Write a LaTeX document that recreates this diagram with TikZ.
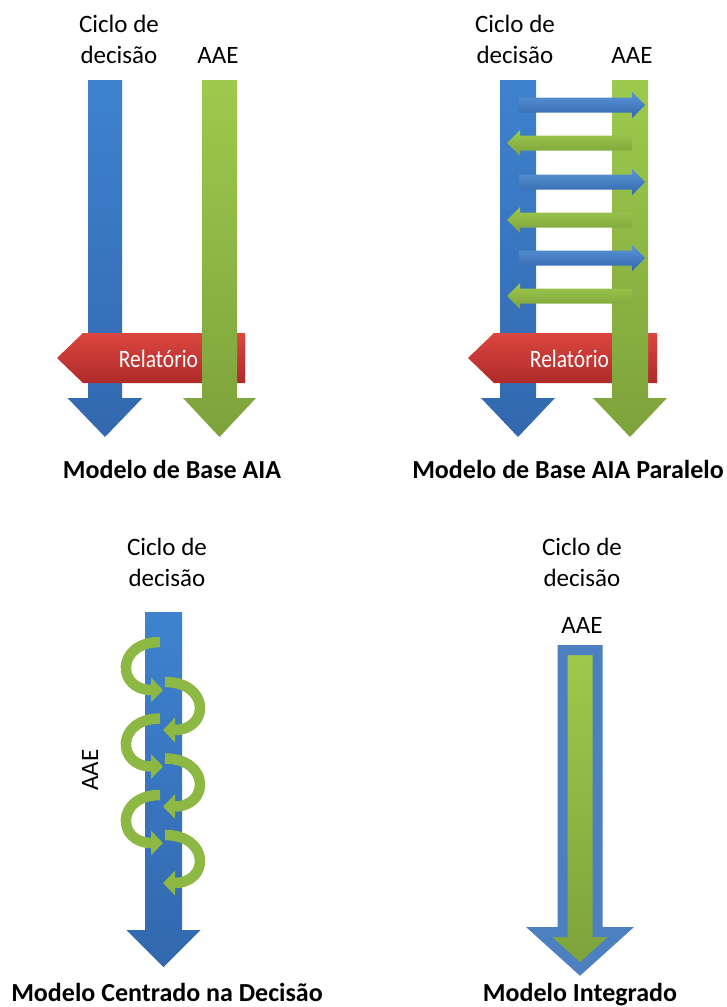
\documentclass[tikz,border=0pt]{standalone}
\usepackage{fontspec}
\setmainfont{Carlito}
\usetikzlibrary{arrows.meta}
\definecolor{bluetop}{HTML}{3E82CE}
\definecolor{bluebot}{HTML}{3268AE}
\definecolor{greentop}{HTML}{9DCA4D}
\definecolor{greenbot}{HTML}{7DA23B}
\definecolor{redtop}{HTML}{DC463F}
\definecolor{redbot}{HTML}{AE2A2A}
\definecolor{edgeblue}{HTML}{4C80C0}
\definecolor{spiralgreen}{HTML}{8CB843}
% down arrow: cx, top, head base, tip, shaft half width, head half width
\newcommand\dpath[6]{(#1-#5,#2) -- (#1+#5,#2) -- (#1+#5,#3) -- (#1+#6,#3) -- (#1,#4) -- (#1-#6,#3) -- (#1-#5,#3) -- cycle}
% horizontal arrow: tail x, head base x, tip x, y
\newcommand\hpath[4]{(#1,#4-7.5) -- (#2,#4-7.5) -- (#2,#4-13) -- (#3,#4) -- (#2,#4+13) -- (#2,#4+7.5) -- (#1,#4+7.5) -- cycle}
\begin{document}
\begin{tikzpicture}[x=1pt,y=-1pt,
  lbl/.style={font=\fontsize{25}{31}\selectfont, align=center, inner sep=0pt, anchor=base},
  ttl/.style={font=\bfseries\fontsize{26}{30}\selectfont, inner sep=0pt, anchor=base},
  rel/.style={font=\fontsize{25}{28}\selectfont, text=white, inner sep=0pt, anchor=base},
  bluefill/.style={top color=bluetop, bottom color=bluebot, draw=none},
  greenfill/.style={top color=greentop, bottom color=greenbot, draw=none},
  redfill/.style={top color=redtop, bottom color=redbot, draw=none},
  spiral/.style={draw=spiralgreen, line width=10.5pt, -{Triangle[length=12pt,width=24pt]}}]
\useasboundingbox (0,0) rectangle (727,1007);

% ---------- Panel 1: Modelo de Base AIA ----------
\node[lbl] (c1) at (119,32) {Ciclo de};
\node[lbl] (d1) at (119,63) {decisão};
\node[lbl] (a1) at (218,63) {AAE};
\shade[bluefill] \dpath{105}{80}{398}{437}{17}{37.5};
\shade[redfill] (245,333) -- (83,333) -- (57,358) -- (83,383) -- (245,383) -- cycle;
\node[rel] (r1) at (158.5,367) {\scalebox{0.86}[1]{Relatório}};
\shade[greenfill] \dpath{219.5}{80}{398}{437}{17.5}{36.5};
\node[ttl] (t1) at (172,478) {Modelo de Base AIA};

% ---------- Panel 2: Modelo de Base AIA Paralelo ----------
\node[lbl] (c2) at (515,32) {Ciclo de};
\node[lbl] (d2) at (515,63) {decisão};
\node[lbl] (a2) at (632,63) {AAE};
\shade[bluefill] \dpath{518}{80}{398}{437}{18}{37};
\shade[redfill] (657,333) -- (494,333) -- (468,358) -- (494,383) -- (657,383) -- cycle;
\node[rel] (r2) at (569.5,367) {\scalebox{0.86}[1]{Relatório}};
\shade[greenfill] \dpath{630}{80}{398}{437}{18}{37};
\foreach \yy in {105,182,258} {
  \shade[top color=bluetop!85!white, bottom color=bluebot, draw=none] \hpath{519}{632}{645}{\yy};
}
\foreach \yy in {143,220,296} {
  \shade[top color=greentop, bottom color=greenbot, draw=none] \hpath{632}{520}{507}{\yy};
}
\node[ttl] (t2) at (568,478) {Modelo de Base AIA Paralelo};

% ---------- Panel 3: Modelo Centrado na Decisão ----------
\node[lbl] (c3) at (167,555) {Ciclo de};
\node[lbl] (d3) at (167,586) {decisão};
\shade[bluefill] \dpath{163.5}{612}{930}{967}{18.5}{37};
\foreach \i in {0,1,2} {
  \pgfmathsetmacro\ya{642+76.5*\i}
  \pgfmathsetmacro\yb{682+76.5*\i}
  \draw[spiral] (160,\ya) .. controls (116,\ya) and (116,\ya+48) .. (163,\ya+48);
  \draw[spiral] (165,\yb) .. controls (210,\yb) and (210,\yb+48) .. (163,\yb+48);
}
\node[lbl, rotate=90, anchor=center] (a3) at (90,770) {AAE};
\node[ttl] (t3) at (167,1001) {Modelo Centrado na Decisão};

% ---------- Panel 4: Modelo Integrado ----------
\node[lbl] (c4) at (582,555) {Ciclo de};
\node[lbl] (d4) at (582,586) {decisão};
\node[lbl] (a4) at (582,633) {AAE};
\shadedraw[top color=greentop, bottom color=greenbot, draw=edgeblue, line width=10pt, miter limit=10] \dpath{580}{650}{932}{969}{17.5}{41};
\node[ttl] (t4) at (580,1001) {Modelo Integrado};
\end{tikzpicture}
\end{document}
